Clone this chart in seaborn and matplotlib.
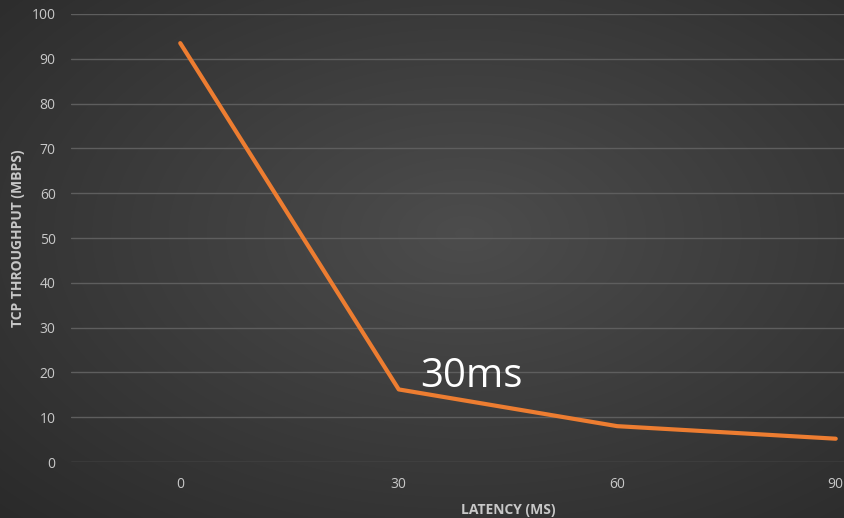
import numpy as np
import pandas as pd
import matplotlib
matplotlib.use("Agg")
import matplotlib.pyplot as plt
import seaborn as sns

latency = ["0", "30", "60", "90"]
throughput = [93.5, 16.2, 8.0, 5.2]
y_ticks = [0, 10, 20, 30, 40, 50, 60, 70, 80, 90, 100]

sns.set_theme(style="dark")
plt.rcParams["font.family"] = ["Open Sans", "DejaVu Sans"]

W, H = 844, 518
fig = plt.figure(figsize=(W / 100, H / 100), dpi=100)

# radial grey background
bg = fig.add_axes([0, 0, 1, 1], zorder=0)
yy, xx = np.mgrid[0:H, 0:W]
cx, cy = W * 0.55, H * 0.45
r = np.sqrt(((xx - cx) / (W * 0.75)) ** 2 + ((yy - cy) / (H * 0.75)) ** 2)
shade = np.clip(0.30 - 0.13 * r, 0.15, 0.30)
bg.imshow(np.dstack([shade] * 3), aspect="auto", extent=[0, 1, 0, 1])
bg.axis("off")

left_px, right_px, top_px, bot_px = 71, 945, 14, 462
ax = fig.add_axes([left_px / W, 1 - bot_px / H, (right_px - left_px) / W,
                   (bot_px - top_px) / H], zorder=1)
ax.patch.set_alpha(0)

df = pd.DataFrame({"latency": latency, "throughput": throughput})
sns.lineplot(data=df, x="latency", y="throughput", ax=ax, color="#ED7D31",
             linewidth=3.0, sort=False, solid_capstyle="round", zorder=3)

ax.set_xlim(-0.5, 3.5)
ax.set_ylim(0, 100)
ax.set_yticks(y_ticks)
ax.yaxis.grid(True, color="#5e5e5e", linewidth=1.0)
ax.xaxis.grid(False)
for s in ax.spines.values():
    s.set_visible(False)
ax.tick_params(axis="both", colors="#c8c8c8", labelsize=10, length=0)
ax.tick_params(axis="x", pad=11)
ax.tick_params(axis="y", pad=11)

ax.set_xlabel("LATENCY (MS)", color="#c8c8c8", fontsize=10,
              fontweight="bold", labelpad=8)
ax.set_ylabel("TCP THROUGHPUT (MBPS)", color="#c8c8c8", fontsize=10,
              fontweight="bold", labelpad=5)

ax.text(1.1, 14.6, "30ms", color="white", fontsize=29, ha="left",
        va="bottom")

fig.savefig("out.png", dpi=100)
